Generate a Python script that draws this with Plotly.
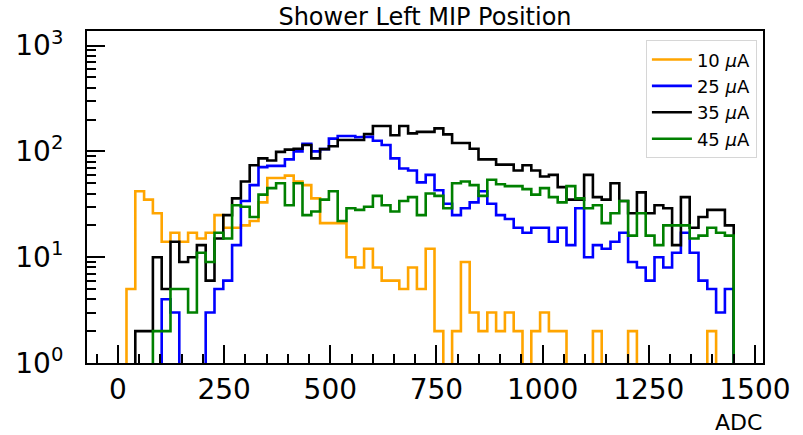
import numpy as np
import plotly.graph_objects as go

# Histogram binning (ADC)
bin_edges = np.linspace(20, 1450, 70)

# Counts per bin for each current setting
counts_10uA = [5, 42, 35, 26, 14, 17, 14, 17, 15, 17,
               25, 19, 19, 20, 22, 33, 56, 56, 59, 52,
               48, 36, 21, 21, 21, 10, 8, 12, 8, 6,
               6, 5, 8, 5, 12, 2, 0, 2, 9, 3,
               2, 3, 2, 3, 2, 0, 2, 3, 2, 2,
               0, 0, 0, 2, 0, 0, 0, 2, 0, 0,
               0, 0, 0, 0, 0, 0, 2, 0, 0]
counts_25uA = [0, 0, 0, 0, 4, 3, 0, 0, 0, 3,
               5, 6, 13, 34, 48, 71, 73, 73, 84, 100,
               118, 100, 105, 132, 140, 140, 136, 138, 126, 115,
               86, 69, 66, 51, 60, 43, 32, 25, 29, 33,
               42, 32, 25, 23, 19, 17, 19, 19, 14, 19,
               13, 29, 10, 13, 12, 14, 17, 9, 8, 6,
               10, 8, 11, 17, 11, 6, 5, 3, 5]
counts_35uA = [0, 2, 2, 10, 5, 14, 9, 10, 13, 6,
               15, 25, 36, 52, 74, 86, 82, 99, 104, 106,
               115, 86, 105, 112, 128, 128, 128, 146, 174, 174,
               142, 174, 148, 153, 153, 165, 145, 120, 120, 106,
               84, 84, 75, 75, 66, 74, 66, 58, 60, 46,
               35, 35, 60, 37, 35, 50, 34, 26, 41, 26,
               31, 29, 13, 37, 19, 24, 28, 28, 20]
counts_45uA = [0, 0, 0, 2, 2, 5, 5, 3, 11, 9,
               17, 15, 31, 30, 24, 39, 45, 50, 31, 50,
               25, 27, 35, 42, 22, 29, 28, 30, 38, 31,
               27, 34, 37, 25, 40, 38, 29, 50, 52, 48,
               38, 54, 49, 47, 47, 44, 39, 45, 37, 33,
               47, 36, 29, 31, 21, 26, 34, 16, 26, 16,
               13, 20, 20, 20, 15, 16, 19, 17, 16]

series_labels = ["10 <i>μ</i>A", "25 <i>μ</i>A", "35 <i>μ</i>A", "45 <i>μ</i>A"]
series_colors = ["orange", "blue", "black", "green"]
series_counts = [counts_10uA, counts_25uA, counts_35uA, counts_45uA]

y_tick_vals = [1, 10, 100, 1000]
y_tick_text = ["10<sup>0</sup>", "10<sup>1</sup>", "10<sup>2</sup>", "10<sup>3</sup>"]
x_tick_vals = [0, 250, 500, 750, 1000, 1250, 1500]


def step_outline(counts, floor=1e-2):
    """Outline of a step histogram; empty bins drop below the log axis."""
    xs = [bin_edges[0]]
    ys = [floor]
    for i, c in enumerate(counts):
        v = c if c > 0 else floor
        xs += [bin_edges[i], bin_edges[i + 1]]
        ys += [v, v]
    xs.append(bin_edges[-1])
    ys.append(floor)
    return xs, ys


fig = go.Figure()
for label, color, counts in zip(series_labels, series_colors, series_counts):
    xs, ys = step_outline(counts)
    fig.add_trace(go.Scatter(x=xs, y=ys, mode="lines", name=label,
                             line=dict(color=color, width=2.6)))

minor_y = [k * 10 ** n for n in range(0, 4) for k in range(2, 10) if k * 10 ** n < 1400]

fig.update_layout(
    width=803, height=435,
    margin=dict(l=87, r=35, t=31, b=72),
    plot_bgcolor="white", paper_bgcolor="white",
    font=dict(family="DejaVu Sans", color="black"),
    title=dict(text="Shower Left MIP Position", x=0.5, xref="paper",
               y=1 - 17 / 435, yref="container", yanchor="middle",
               xanchor="center", font=dict(size=24)),
    showlegend=True,
    legend=dict(x=0.991, y=0.972, xanchor="right", yanchor="top",
                bgcolor="rgba(255,255,255,0.8)", bordercolor="#d6d6d6",
                borderwidth=1, font=dict(size=18), itemwidth=40,
                tracegroupgap=0),
    xaxis=dict(range=[-73, 1519], showline=True, mirror=True, linecolor="black",
               linewidth=2, ticks="inside", ticklen=18, tickwidth=2,
               tickcolor="black", tickmode="array", tickvals=x_tick_vals,
               tickfont=dict(size=28), showgrid=False, zeroline=False,
               minor=dict(ticks="inside", ticklen=9, tickwidth=1.5,
                          tickcolor="black", dtick=50, tick0=0, showgrid=False)),
    yaxis=dict(type="log", range=[0, 3.138], showline=True, mirror=True,
               linecolor="black", linewidth=2, ticks="inside", ticklen=18,
               tickwidth=2, tickcolor="black", tickmode="array",
               tickvals=y_tick_vals, ticktext=y_tick_text,
               tickfont=dict(size=28), showgrid=False, zeroline=False,
               ticklabelstandoff=16,
               minor=dict(ticks="inside", ticklen=9, tickwidth=1.5,
                          tickcolor="black", tickmode="array",
                          tickvals=minor_y, showgrid=False)),
)

fig.add_annotation(text="ADC", x=1.002, xref="paper", xanchor="right",
                   y=-0.178, yref="paper", yanchor="middle",
                   showarrow=False, font=dict(size=22))

fig.write_html("out.html")
